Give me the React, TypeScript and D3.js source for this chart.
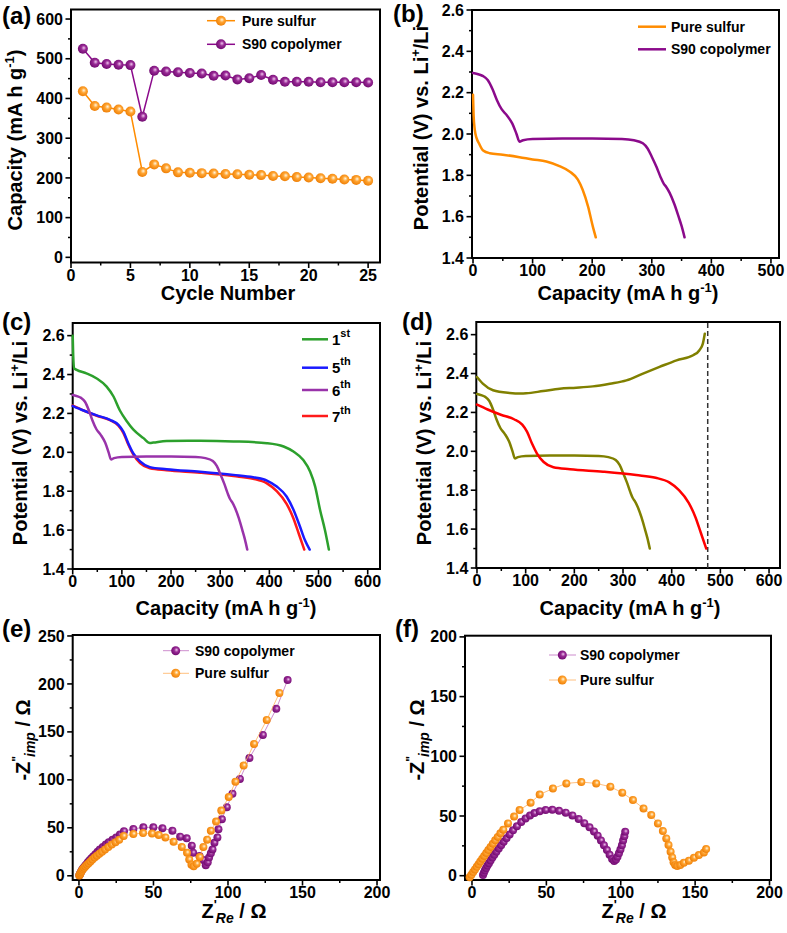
import React from "react";
import * as d3 from "d3";

const FONT = "'Liberation Sans', Arial, Helvetica, sans-serif";
const ORANGE = "#ff8c00";
const PURPLE = "#8b0a8b";

// ---------- (a) cycling ----------
const cycleNumbers = [1, 2, 3, 4, 5, 6, 7, 8, 9, 10, 11, 12, 13, 14, 15, 16, 17, 18, 19, 20, 21, 22, 23, 24, 25];
const pureSulfurCapacity = [418, 381, 377, 372, 367, 215, 234, 224, 214, 213, 212, 211, 210, 209, 208, 207, 205, 204, 202, 201, 199, 198, 196, 195, 193];
const s90Capacity = [525, 490, 487, 485, 484, 354, 470, 468, 466, 464, 463, 457, 458, 448, 451, 459, 447, 442, 442, 442, 441, 441, 441, 441, 440];
const aXTicks = [0, 5, 10, 15, 20, 25];
const aXMinor = [2.5, 7.5, 12.5, 17.5, 22.5];
const aYTicks = [0, 100, 200, 300, 400, 500, 600];
const aYMinor = [50, 150, 250, 350, 450, 550];

// ---------- (b),(c),(d) voltage profiles: [capacity, potential] ----------
const pureSulfurDischarge = [
  [0, 2.19], [1, 2.09], [3, 2.02], [6, 1.98], [10, 1.955], [17, 1.92], [28, 1.907], [50, 1.9], [78, 1.888],
  [100, 1.877], [123, 1.867], [145, 1.845], [162, 1.819], [176, 1.779], [184, 1.73], [193, 1.65], [201, 1.553], [206, 1.5],
];
const s90Discharge = [
  [0, 2.295], [10, 2.288], [17, 2.28], [25, 2.26], [33, 2.215], [40, 2.165], [48, 2.12], [57, 2.09], [66, 2.05], [73, 2.0],
  [78, 1.963], [84, 1.97], [100, 1.976], [150, 1.978], [200, 1.978], [250, 1.976], [270, 1.97], [285, 1.955], [293, 1.93],
  [300, 1.89], [308, 1.84], [315, 1.79], [320, 1.76], [324, 1.745], [330, 1.715], [338, 1.66], [345, 1.6], [350, 1.555], [355, 1.5],
];
const firstDischarge = [
  [0, 2.6], [1, 2.5], [3, 2.432], [8, 2.424], [28, 2.406], [49, 2.38], [69, 2.338], [83, 2.287], [96, 2.215], [110, 2.16],
  [123, 2.118], [144, 2.073], [157, 2.048], [164, 2.05], [191, 2.058], [259, 2.059], [327, 2.056], [395, 2.047], [429, 2.03],
  [449, 2.004], [469, 1.96], [483, 1.9], [493, 1.825], [503, 1.705], [513, 1.6], [521, 1.5],
];
const fifthDischarge = [
  [0, 2.238], [22, 2.215], [49, 2.19], [76, 2.167], [93, 2.141], [103, 2.107], [113, 2.047], [123, 1.996], [137, 1.953],
  [157, 1.924], [191, 1.913], [259, 1.9], [327, 1.884], [367, 1.872], [395, 1.855], [415, 1.824], [435, 1.773], [449, 1.705],
  [462, 1.62], [472, 1.55], [482, 1.5],
];
const seventhDischarge = [
  [0, 2.24], [22, 2.215], [49, 2.188], [76, 2.165], [93, 2.137], [103, 2.1], [113, 2.04], [123, 1.99], [137, 1.945],
  [157, 1.918], [191, 1.908], [259, 1.895], [327, 1.878], [367, 1.864], [395, 1.84], [415, 1.8], [435, 1.735], [449, 1.66],
  [460, 1.58], [471, 1.5],
];
const s90Charge = [
  [0, 2.382], [12, 2.348], [33, 2.314], [67, 2.3], [90, 2.297], [101, 2.298], [136, 2.31], [170, 2.322], [204, 2.327],
  [238, 2.334], [273, 2.348], [307, 2.365], [341, 2.4], [375, 2.434], [410, 2.468], [444, 2.494], [457, 2.52], [464, 2.554], [468, 2.605],
];
const chargeCutoffCapacity = 474;
const bXTicks = [0, 100, 200, 300, 400, 500];
const bXMinor = [50, 150, 250, 350, 450];
const vTicks = [1.4, 1.6, 1.8, 2.0, 2.2, 2.4, 2.6];
const vMinor = [1.5, 1.7, 1.9, 2.1, 2.3, 2.5];
const cXTicks = [0, 100, 200, 300, 400, 500, 600];
const cXMinor = [50, 150, 250, 350, 450, 550];

// ---------- (e),(f) Nyquist: [Z'Re, -Z''imp] ----------
const eS90 = [
  [0.3, 0.5], [0.6, 1.5], [1.0, 3], [1.5, 4.5], [2.0, 6], [2.7, 7.5], [3.4, 9], [4.2, 10.5], [5.0, 12], [6.0, 14], [7.0, 16],
  [8.2, 18], [9.5, 20], [11, 22.5], [12.5, 25], [14, 27.5], [16, 30], [18, 32.5], [20, 35], [22.5, 37.5], [25, 40], [27.5, 43],
  [30.2, 46.5], [36.5, 48.8], [43.2, 50.5], [49.9, 50.5], [56, 49.5], [62.7, 47], [67.9, 40.8], [72.3, 39], [75.7, 31.4],
  [76.6, 24], [80.9, 20.6], [83.5, 16.4], [85.1, 11], [86.4, 14], [87.3, 19], [88.5, 23.4], [89.6, 27.5], [90.9, 34.5],
  [92.9, 40], [93.6, 48.5], [95.9, 59], [99.2, 71.5], [103, 85.4], [108, 101], [114.4, 122.7], [123.4, 146.8], [132.4, 174], [140, 204],
];
const eSulfur = [
  [0.2, 0.3], [0.5, 1.2], [0.9, 2.5], [1.4, 4], [2.0, 5.5], [2.7, 7], [3.5, 8.5], [4.4, 10], [5.4, 11.5], [6.5, 13], [7.7, 15],
  [9, 17], [10.5, 19], [12, 21], [13.7, 23], [15.5, 25], [17.5, 27.5], [19.7, 30], [22, 32.5], [24.5, 35], [27, 37.5],
  [30, 41.5], [36.5, 43.5], [43, 44.5], [49, 44], [53.5, 42.5], [58, 40], [63.5, 35.5], [69, 30], [72.5, 24], [74, 17],
  [75.5, 11.5], [77, 10], [79, 12.5], [81, 19.5], [83.5, 30], [86, 37.5], [88.5, 47], [92, 56.5], [95.5, 68], [100.5, 82],
  [105, 98], [110.5, 115], [117.5, 137.5], [126, 162.5], [134.5, 190.5],
];
const fS90 = [
  [7.4, 0.5], [8, 2.5], [8.7, 4.5], [9.5, 6.5], [10.4, 8.5], [11.4, 10.5], [12.5, 12.8], [13.7, 15.2], [15, 17.6], [16.4, 20],
  [18, 22.8], [19.6, 25.6], [21.3, 28.4], [23.2, 31.4], [25.3, 34.6], [27.6, 38], [30.2, 41.5], [33.1, 45], [36, 48], [39, 50.5],
  [42, 52.5], [45.5, 54], [49.5, 55], [54, 55.2], [58.5, 54.3], [63, 52.8], [67.5, 50.5], [71.7, 47.5], [75.5, 44], [79, 40.5],
  [82, 37], [84.5, 33.5], [86.7, 29.5], [88.7, 25.5], [90.7, 21.5], [92.5, 17.5], [94.2, 14], [95.6, 12.3], [96.8, 13.5],
  [97.8, 15.8], [98.8, 18.7], [99.8, 22], [100.8, 25.5], [101.6, 29.5], [102.4, 33], [103, 36.8],
];
const fSulfur = [
  [-1.6, -1.4], [-0.4, 0.8], [0.8, 3], [2, 5.2], [3.2, 7.4], [4.4, 9.6], [5.6, 11.9], [6.9, 14.2], [8.2, 16.6], [9.6, 19],
  [11, 21.5], [12.5, 24.1], [14, 26.8], [15.6, 29.6], [17.3, 32.5], [19.1, 35.5], [21, 38.5], [24.2, 43.8], [28.3, 49.5],
  [32, 55], [39.4, 61], [45.5, 68], [54.4, 73], [63.4, 77.3], [73.5, 78.4], [83.5, 77.3], [93, 74.5], [101, 69.5], [108.2, 63.3],
  [115.3, 56.3], [120.5, 50.8], [125, 43.8], [128.3, 37.4], [130.6, 31.2], [132.1, 25.7], [133.5, 20.1], [134.6, 15.3],
  [135.5, 11.2], [136.6, 8.9], [138, 8.1], [140, 8.9], [142.4, 10.9], [145.8, 12.6], [149.2, 15.1], [152.5, 17.3], [155.9, 19.5], [157.4, 22.3],
];
const zXTicks = [0, 50, 100, 150, 200];
const zXMinor = [25, 75, 125, 175];
const eYTicks = [0, 50, 100, 150, 200, 250];
const eYMinor = [25, 75, 125, 175, 225];
const fYTicks = [0, 50, 100, 150, 200];
const fYMinor = [25, 75, 125, 175];

type Box = { l: number; r: number; t: number; b: number; xd: number[]; yd: number[] };

const boxA: Box = { l: 71, r: 380, t: 9.5, b: 262.5, xd: [0, 26], yd: [-13, 624] };
const boxB: Box = { l: 472, r: 779, t: 10, b: 258, xd: [-1.7, 513.5], yd: [1.4, 2.6] };
const boxC: Box = { l: 72.7, r: 380, t: 323, b: 569, xd: [0, 625], yd: [1.4, 2.665] };
const boxD: Box = { l: 476.3, r: 780, t: 322, b: 568, xd: [-1.4, 622.5], yd: [1.4, 2.665] };
const boxE: Box = { l: 72.7, r: 380, t: 635, b: 880, xd: [-4.2, 202], yd: [-4.4, 251] };
const boxF: Box = { l: 465, r: 771, t: 635.7, b: 880, xd: [-4.7, 201], yd: [-3.6, 201] };

function scales(b: Box) {
  const x = d3.scaleLinear().domain(b.xd).range([b.l, b.r]);
  const y = d3.scaleLinear().domain(b.yd).range([b.b, b.t]);
  return { x, y };
}

function Axes({ b, xTicks, xMinor, yTicks, yMinor, yFmt }: any) {
  const { x, y } = scales(b);
  const fmt = yFmt || ((v: number) => String(v));
  return (
    <g>
      {xMinor.map((v: number) => (
        <line key={"xm" + v} x1={x(v)} x2={x(v)} y1={b.b} y2={b.b + 3} stroke="#000" strokeWidth={1.5} />
      ))}
      {xTicks.map((v: number) => (
        <g key={"xt" + v}>
          <line x1={x(v)} x2={x(v)} y1={b.b} y2={b.b + 5.5} stroke="#000" strokeWidth={1.6} />
          <text x={x(v)} y={b.b + 18} textAnchor="middle" fontSize={16} fontWeight="bold">{v}</text>
        </g>
      ))}
      {yMinor.map((v: number) => (
        <line key={"ym" + v} x1={b.l - 3} x2={b.l} y1={y(v)} y2={y(v)} stroke="#000" strokeWidth={1.5} />
      ))}
      {yTicks.map((v: number) => (
        <g key={"yt" + v}>
          <line x1={b.l - 5.5} x2={b.l} y1={y(v)} y2={y(v)} stroke="#000" strokeWidth={1.6} />
          <text x={b.l - 8} y={y(v) + 5.6} textAnchor="end" fontSize={16} fontWeight="bold">{fmt(v)}</text>
        </g>
      ))}
      <rect x={b.l} y={b.t} width={b.r - b.l} height={b.b - b.t} fill="none" stroke="#000" strokeWidth={2} />
    </g>
  );
}

function Curve({ b, data, color, width = 2.5 }: any) {
  const { x, y } = scales(b);
  const line = d3.line<number[]>().x((d) => x(d[0])).y((d) => y(d[1])).curve(d3.curveMonotoneX);
  return <path d={line(data) || ""} fill="none" stroke={color} strokeWidth={width} strokeLinejoin="round" strokeLinecap="round" />;
}

function Scatter({ b, data, kind, r, lineColor, lineWidth }: any) {
  const { x, y } = scales(b);
  const line = d3.line<number[]>().x((d) => x(d[0])).y((d) => y(d[1]));
  return (
    <g>
      <path d={line(data) || ""} fill="none" stroke={lineColor} strokeWidth={lineWidth} />
      {data.map((d: number[], i: number) => (
        <circle key={i} cx={x(d[0])} cy={y(d[1])} r={r} fill={`url(#g-${kind})`} />
      ))}
    </g>
  );
}

const vFmt = (v: number) => v.toFixed(1);

export default function App() {
  const sd = scales(boxD);
  const pureA = cycleNumbers.map((c, i) => [c, pureSulfurCapacity[i]]);
  const s90A = cycleNumbers.map((c, i) => [c, s90Capacity[i]]);

  const capTitle = (
    <>
      Capacity (mA h g<tspan dy={-8} fontSize={13}>-1</tspan><tspan dy={8}>)</tspan>
    </>
  );
  const potTitle = (
    <>
      Potential (V) vs. Li<tspan dy={-8} fontSize={13}>+</tspan><tspan dy={8}>/Li</tspan>
    </>
  );
  const zImTitle = (
    <>
      -Z<tspan dy={-9} fontSize={12}>"</tspan><tspan dx={-1} dy={14} fontSize={14} fontStyle="italic">imp</tspan><tspan dy={-5}> / Ω</tspan>
    </>
  );
  const zReTitle = (
    <>
      Z<tspan dy={-9} fontSize={13}>'</tspan><tspan dx={-1} dy={14} fontSize={14} fontStyle="italic">Re</tspan><tspan dy={-5}> / Ω</tspan>
    </>
  );

  const legendLine = (x1: number, x2: number, y: number, color: string, w = 2.5) => (
    <line x1={x1} x2={x2} y1={y} y2={y} stroke={color} strokeWidth={w} />
  );

  return (
    <svg width={787} height={933} style={{ position: "absolute", left: 0, top: 0, background: "#fff" }} fontFamily={FONT}>
      <defs>
        <radialGradient id="g-orange" cx="0.55" cy="0.45" r="0.6" fx="0.6" fy="0.4">
          <stop offset="0" stopColor="#fff6e0" />
          <stop offset="0.4" stopColor="#ffa431" />
          <stop offset="1" stopColor="#ec7a00" />
        </radialGradient>
        <radialGradient id="g-purple" cx="0.55" cy="0.45" r="0.6" fx="0.6" fy="0.4">
          <stop offset="0" stopColor="#f0c6ee" />
          <stop offset="0.4" stopColor="#982a95" />
          <stop offset="1" stopColor="#6c066c" />
        </radialGradient>
      </defs>
      <rect x={0} y={0} width={787} height={933} fill="#fff" />

      {/* ---------- (a) ---------- */}
      <Axes b={boxA} xTicks={aXTicks} xMinor={aXMinor} yTicks={aYTicks} yMinor={aYMinor} />
      <Scatter b={boxA} data={pureA} kind="orange" r={5} lineColor={ORANGE} lineWidth={1.5} />
      <Scatter b={boxA} data={s90A} kind="purple" r={5} lineColor={PURPLE} lineWidth={1.5} />
      {legendLine(207, 235, 20.7, ORANGE, 1.5)}
      <circle cx={221} cy={20.7} r={5} fill="url(#g-orange)" />
      <text x={242} y={25.7} fontSize={14} fontWeight="bold">Pure sulfur</text>
      {legendLine(207, 235, 44.3, PURPLE, 1.5)}
      <circle cx={221} cy={44.3} r={5} fill="url(#g-purple)" />
      <text x={242} y={49.3} fontSize={14} fontWeight="bold">S90 copolymer</text>
      <text x={228} y={300} textAnchor="middle" fontSize={20} fontWeight="bold">Cycle Number</text>
      <text transform="translate(22,140) rotate(-90)" textAnchor="middle" fontSize={20} fontWeight="bold">{capTitle}</text>
      <text x={2} y={24} fontSize={24} fontWeight="bold">(a)</text>

      {/* ---------- (b) ---------- */}
      <Axes b={boxB} xTicks={bXTicks} xMinor={bXMinor} yTicks={vTicks} yMinor={vMinor} yFmt={vFmt} />
      <Curve b={boxB} data={pureSulfurDischarge} color={ORANGE} />
      <Curve b={boxB} data={s90Discharge} color={PURPLE} />
      {legendLine(638, 666, 26.7, ORANGE)}
      <text x={671} y={31.7} fontSize={14} fontWeight="bold">Pure sulfur</text>
      {legendLine(638, 666, 49.3, PURPLE)}
      <text x={671} y={54.3} fontSize={14} fontWeight="bold">S90 copolymer</text>
      <text x={628} y={300} textAnchor="middle" fontSize={20} fontWeight="bold">{capTitle}</text>
      <text transform="translate(428,128) rotate(-90)" textAnchor="middle" fontSize={20} fontWeight="bold">{potTitle}</text>
      <text x={393} y={22} fontSize={24} fontWeight="bold">(b)</text>

      {/* ---------- (c) ---------- */}
      <Axes b={boxC} xTicks={cXTicks} xMinor={cXMinor} yTicks={vTicks} yMinor={vMinor} yFmt={vFmt} />
      <Curve b={boxC} data={firstDischarge} color="#2ca02c" />
      <Curve b={boxC} data={seventhDischarge} color="#ff1a1a" />
      <Curve b={boxC} data={fifthDischarge} color="#1a1aff" />
      <Curve b={boxC} data={s90Discharge} color="#9933aa" />
      {[
        { y: 339.3, c: "#2ca02c", n: "1", s: "st" },
        { y: 367.7, c: "#1a1aff", n: "5", s: "th" },
        { y: 390, c: "#9933aa", n: "6", s: "th" },
        { y: 416, c: "#ff1a1a", n: "7", s: "th" },
      ].map((e) => (
        <g key={e.n}>
          {legendLine(302, 328, e.y, e.c)}
          <text x={332} y={e.y + 5.5} fontSize={15} fontWeight="bold">
            {e.n}
            <tspan dy={-8} fontSize={11}>{e.s}</tspan>
          </text>
        </g>
      ))}
      <text x={226} y={615} textAnchor="middle" fontSize={20} fontWeight="bold">{capTitle}</text>
      <text transform="translate(27,443) rotate(-90)" textAnchor="middle" fontSize={20} fontWeight="bold">{potTitle}</text>
      <text x={2} y={330} fontSize={24} fontWeight="bold">(c)</text>

      {/* ---------- (d) ---------- */}
      <Axes b={boxD} xTicks={cXTicks} xMinor={cXMinor} yTicks={vTicks} yMinor={vMinor} yFmt={vFmt} />
      <line x1={sd.x(chargeCutoffCapacity)} x2={sd.x(chargeCutoffCapacity)} y1={boxD.t + 1} y2={boxD.b} stroke="#333" strokeWidth={1.5} strokeDasharray="5,3" />
      <Curve b={boxD} data={s90Charge} color="#808000" />
      <Curve b={boxD} data={s90Discharge} color="#808000" />
      <Curve b={boxD} data={seventhDischarge} color="#ff0000" />
      <text x={630} y={615} textAnchor="middle" fontSize={20} fontWeight="bold">{capTitle}</text>
      <text transform="translate(431,443) rotate(-90)" textAnchor="middle" fontSize={20} fontWeight="bold">{potTitle}</text>
      <text x={402} y={330} fontSize={24} fontWeight="bold">(d)</text>

      {/* ---------- (e) ---------- */}
      <Axes b={boxE} xTicks={zXTicks} xMinor={zXMinor} yTicks={eYTicks} yMinor={eYMinor} />
      <Scatter b={boxE} data={eS90} kind="purple" r={4} lineColor="#c070c0" lineWidth={0.8} />
      <Scatter b={boxE} data={eSulfur} kind="orange" r={4} lineColor="#ffb060" lineWidth={0.8} />
      {legendLine(163, 189, 650.7, "#c070c0", 0.8)}
      <circle cx={175.7} cy={650.7} r={4.5} fill="url(#g-purple)" />
      <text x={195} y={655.7} fontSize={14} fontWeight="bold">S90 copolymer</text>
      {legendLine(163, 189, 673.3, "#ffb060", 0.8)}
      <circle cx={175.7} cy={673.3} r={4.5} fill="url(#g-orange)" />
      <text x={195} y={678.3} fontSize={14} fontWeight="bold">Pure sulfur</text>
      <text x={234} y={918} textAnchor="middle" fontSize={20} fontWeight="bold">{zReTitle}</text>
      <text transform="translate(30,740) rotate(-90)" textAnchor="middle" fontSize={20} fontWeight="bold">{zImTitle}</text>
      <text x={2} y={637} fontSize={24} fontWeight="bold">(e)</text>

      {/* ---------- (f) ---------- */}
      <Axes b={boxF} xTicks={zXTicks} xMinor={zXMinor} yTicks={fYTicks} yMinor={fYMinor} />
      <Scatter b={boxF} data={fS90} kind="purple" r={4} lineColor="#c070c0" lineWidth={0.8} />
      <Scatter b={boxF} data={fSulfur} kind="orange" r={4} lineColor="#ffb060" lineWidth={0.8} />
      {legendLine(549, 576, 655, "#c070c0", 0.8)}
      <circle cx={562.3} cy={655} r={4.5} fill="url(#g-purple)" />
      <text x={580} y={660} fontSize={14} fontWeight="bold">S90 copolymer</text>
      {legendLine(549, 576, 680, "#ffb060", 0.8)}
      <circle cx={562.3} cy={680} r={4.5} fill="url(#g-orange)" />
      <text x={580} y={685} fontSize={14} fontWeight="bold">Pure sulfur</text>
      <text x={634} y={918} textAnchor="middle" fontSize={20} fontWeight="bold">{zReTitle}</text>
      <text transform="translate(424,740) rotate(-90)" textAnchor="middle" fontSize={20} fontWeight="bold">{zImTitle}</text>
      <text x={395} y={637} fontSize={24} fontWeight="bold">(f)</text>
    </svg>
  );
}
